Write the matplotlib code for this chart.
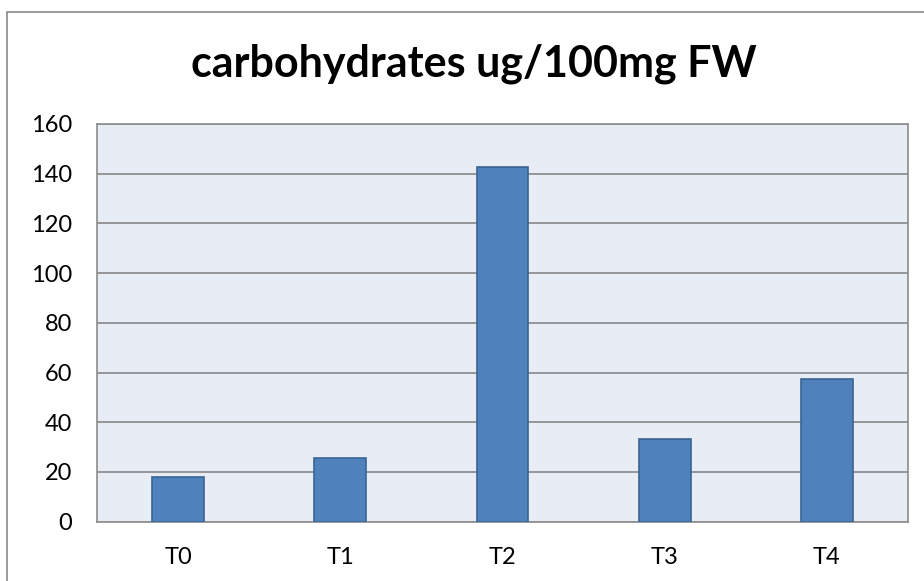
import matplotlib
matplotlib.use("Agg")
import matplotlib.pyplot as plt
from matplotlib.patches import Rectangle

categories = ["T0", "T1", "T2", "T3", "T4"]
values = [17.9, 25.8, 142.9, 33.2, 57.4]
yticks = [0, 20, 40, 60, 80, 100, 120, 140, 160]
title = "carbohydrates ug/100mg FW"

plt.rcParams['font.family'] = ['Lato', 'DejaVu Sans']

W, H = 924, 581
fig = plt.figure(figsize=(W/100, H/100), dpi=100)
fig.patch.set_facecolor('white')

# outer chart border
fig.patches.append(Rectangle((7/W, -0.1), 1.2, (H-12.5)/H + 0.1, transform=fig.transFigure,
                             fill=False, edgecolor='#898989', linewidth=1.2))

left, right, top, bottom = 97, 908, 124, 521.7
ax = fig.add_axes([left/W, 1-bottom/H, (right-left)/W, (bottom-top)/H])
ax.set_facecolor('#e8ecf4')
x = range(len(categories))
ax.bar(x, values, width=0.32, color='#4f81bd', edgecolor='#3a6593', linewidth=1.2, zorder=3)
ax.set_xlim(-0.5, len(categories)-0.5)
ax.set_ylim(0, 160)
ax.set_yticks(yticks)
ax.set_xticks(list(x))
ax.set_xticklabels(categories)
ax.yaxis.grid(True, color='#888888', linewidth=1.2, zorder=1)
ax.tick_params(axis='both', length=0, labelsize=17, colors='black')
ax.tick_params(axis='y', pad=18)
ax.tick_params(axis='x', pad=18)
for s in ax.spines.values():
    s.set_color('#8c8c8c')
    s.set_linewidth(1.2)

fig.text(473.5 / W, 1 - 77/H, title, ha='center', va='baseline', fontsize=31,
         fontweight='bold')

fig.savefig("out.png", dpi=100)
